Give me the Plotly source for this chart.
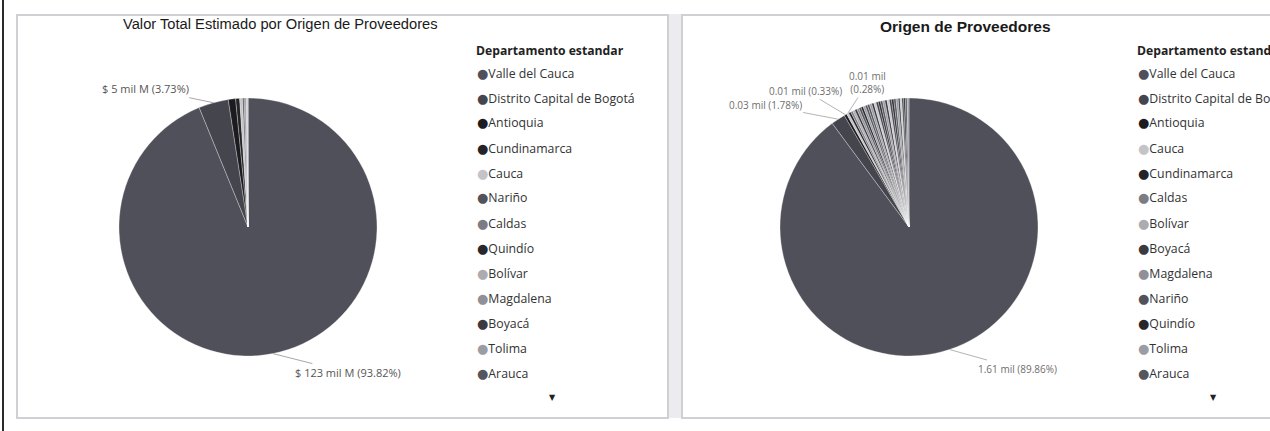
import math
import plotly.graph_objects as go

W, H = 1270, 431

# Valor total estimado (en $ mil M) por departamento de origen
deps_valor = ['Valle del Cauca', 'Distrito Capital de Bogotá', 'Antioquia', 'Cundinamarca',
              'Cauca', 'Nariño', 'Caldas', 'Quindío', 'Bolívar', 'Magdalena', 'Boyacá',
              'Tolima', 'Arauca']
valor_mil_m = [123.0, 4.89, 1.20, 0.66, 0.46, 0.26, 0.20, 0.13, 0.10, 0.08, 0.05, 0.04, 0.03]

# Número de proveedores por departamento de origen
deps_prov = ['Valle del Cauca', 'Distrito Capital de Bogotá', 'Antioquia', 'Cauca', 'Cundinamarca',
             'Caldas', 'Bolívar', 'Boyacá', 'Magdalena', 'Nariño', 'Quindío', 'Tolima', 'Arauca',
             'Atlántico', 'Risaralda', 'Santander', 'Huila', 'Meta', 'Norte de Santander', 'Córdoba',
             'Cesar', 'Sucre', 'Putumayo', 'Casanare', 'Chocó', 'Caquetá', 'La Guajira',
             'Amazonas', 'Guaviare', 'San Andrés', 'Vaupés', 'Vichada', 'Guainía']
n_prov = [1612, 32, 6, 5, 5, 5, 5, 5, 5, 5, 5, 5, 5,
          5, 5, 5, 5, 5, 5, 5, 5, 5, 5, 5, 5, 5, 5,
          4, 4, 4, 4, 4, 4]

COLORS = {
    'Valle del Cauca': '#50505b', 'Distrito Capital de Bogotá': '#45454e',
    'Antioquia': '#1c1c20', 'Cundinamarca': '#242428', 'Cauca': '#c4c4c8',
    'Nariño': '#52525a', 'Caldas': '#7c7c84', 'Quindío': '#28282c',
    'Bolívar': '#ababb0', 'Magdalena': '#909098', 'Boyacá': '#3a3a40',
    'Tolima': '#9c9ca4', 'Arauca': '#55555d',
}
EXTRA = ['#2e2e34', '#55555e', '#9a9aa2', '#3a3a42', '#c8c8cc', '#46464e']

FONT = 'Open Sans, Noto Sans, sans-serif'
R = 129                      # radio del pie en px
CENTERS = [(248, 227), (909, 227)]
LEGEND_X = [477, 1138]


def px(x):
    return x / W


def py(y):
    return 1 - y / H


def color_of(name, i):
    return COLORS.get(name, EXTRA[i % len(EXTRA)])


def pie_domain(cx, cy):
    yb = H - cy
    return dict(x=[(cx - R) / W, (cx + R) / W], y=[(yb - R) / H, (yb + R) / H])


def anchor(values, idx, cx, cy):
    tot = sum(values)
    start = sum(values[:idx]) / tot
    mid = start + values[idx] / tot / 2
    ang = 2 * math.pi * mid
    return cx + R * math.sin(ang), cy - R * math.cos(ang)


def text_ann(x, y, text, size, color='#222222', family=FONT, xanchor='center'):
    return dict(x=px(x), y=py(y), xref='paper', yref='paper', showarrow=False,
                xanchor=xanchor, yanchor='middle', text=text,
                font=dict(family=family, size=size, color=color))


fig = go.Figure()
for (labels, values, unit), (cx, cy) in zip(
        [(deps_valor, valor_mil_m, '$ mil M'), (deps_prov, n_prov, 'proveedores')], CENTERS):
    fig.add_trace(go.Pie(
        labels=labels, values=values,
        domain=pie_domain(cx, cy),
        sort=False, direction='clockwise', rotation=0,
        marker=dict(colors=[color_of(n, i) for i, n in enumerate(labels)],
                    line=dict(color='#ffffff', width=0.3)),
        textinfo='none', showlegend=False,
        hovertemplate='%{label}<br>%{value} ' + unit + ' (%{percent})<extra></extra>'
    ))

ann = []
tot_v = sum(valor_mil_m)
tot_p = sum(n_prov)

# etiquetas de datos (offsets en px respecto al punto medio de la porción)
left_labels = {0: (75, 19), 1: (-68, -14)}
for i, (ax, ay) in left_labels.items():
    x0, y0 = anchor(valor_mil_m, i, *CENTERS[0])
    txt = f'$ {valor_mil_m[i]:.0f} mil M ({valor_mil_m[i] / tot_v * 100:.2f}%)'
    ann.append(dict(x=px(x0), y=py(y0), xref='paper', yref='paper', text=txt,
                    showarrow=True, arrowhead=0, arrowwidth=1, arrowcolor='#a8a8a8',
                    ax=ax, ay=ay, font=dict(family=FONT, size=11, color='#555555')))

right_labels = {0: (68, 19), 1: (-73, -14), 2: (-40, -24), 3: (20, -31)}
for i, (ax, ay) in right_labels.items():
    x0, y0 = anchor(n_prov, i, *CENTERS[1])
    pct = f'({n_prov[i] / tot_p * 100:.2f}%)'
    sep = '<br>' if i == 3 else ' '
    txt = f'{n_prov[i] / 1000:.2f} mil{sep}{pct}'
    ann.append(dict(x=px(x0), y=py(y0), xref='paper', yref='paper', text=txt,
                    showarrow=True, arrowhead=0, arrowwidth=1, arrowcolor='#b4b4b4',
                    ax=ax, ay=ay, font=dict(family=FONT, size=10, color='#6e6e6e')))

# títulos
ann.append(text_ann(280, 24, 'Valor Total Estimado por Origen de Proveedores', 14.7,
                    '#1a1a1a', 'Liberation Sans, Arial'))
ann.append(text_ann(965, 27, '<b>Origen de Proveedores</b>', 15.5,
                    '#1a1a1a', 'Liberation Sans, Arial'))

# leyendas (Power BI muestra 13 elementos y una flecha de desplazamiento)
for lx, labels in zip(LEGEND_X, [deps_valor, deps_prov]):
    ann.append(text_ann(lx - 3, 50, '<b>Departamento estandar</b>', 12.2, '#222222',
                        xanchor='left'))
    for i, name in enumerate(labels[:13]):
        c = color_of(name, i)
        ann.append(text_ann(lx - 2, 73 + 25 * i,
                            f"<span style='color:{c};font-size:13px;font-family:DejaVu Sans'>●</span>{name}",
                            12.3, '#333333', xanchor='left'))
    ann.append(text_ann(lx + 75, 397, '▼', 8, '#222222', 'DejaVu Sans'))

shapes = [
    dict(type='line', xref='paper', yref='paper', x0=px(3), x1=px(3), y0=0, y1=1,
         line=dict(color='#2a2a2a', width=2)),
    dict(type='rect', xref='paper', yref='paper', x0=px(668), x1=px(682), y0=py(418), y1=py(14),
         fillcolor='#ebebf0', line=dict(width=0)),
    dict(type='rect', xref='paper', yref='paper', x0=px(17), x1=px(668), y0=py(418), y1=py(15),
         line=dict(color='#cfcfd4', width=2)),
    dict(type='rect', xref='paper', yref='paper', x0=px(682), x1=px(1290), y0=py(418), y1=py(15),
         line=dict(color='#cfcfd4', width=2)),
]

fig.update_layout(
    width=W, height=H,
    margin=dict(l=0, r=0, t=0, b=0),
    paper_bgcolor='#ffffff', plot_bgcolor='#ffffff',
    annotations=ann, shapes=shapes,
)
fig.write_html('out.html', config={'displayModeBar': False},
               post_script="document.body.style.margin='0px';")
